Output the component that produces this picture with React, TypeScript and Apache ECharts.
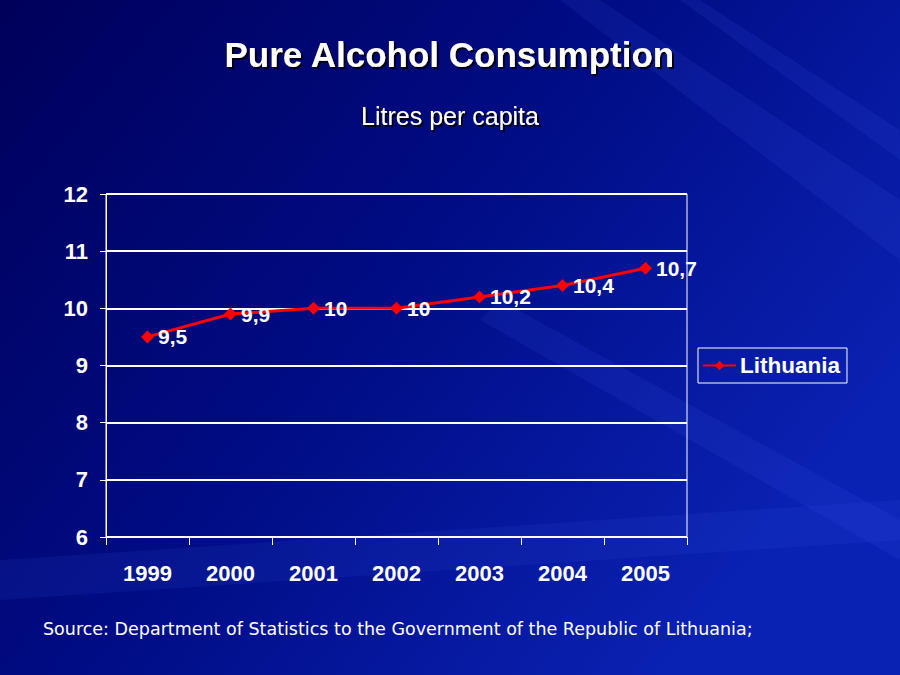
import React, { useEffect, useRef } from "react";
import * as echarts from "echarts";

const years = ["1999", "2000", "2001", "2002", "2003", "2004", "2005"];
const lithuania = [9.5, 9.9, 10, 10, 10.2, 10.4, 10.7];
const seriesName = "Lithuania";
const titleText = "Pure Alcohol Consumption";
const subtitleText = "Litres per capita";
const sourceText = "Source: Department of Statistics to the Government of the Republic of Lithuania;";

export default function App() {
  const ref = useRef<HTMLDivElement>(null);
  useEffect(() => {
    if (!ref.current) return;
    const chart = echarts.init(ref.current, undefined, { renderer: "svg" });
    const shadow = { textShadowColor: "rgba(0,0,0,0.9)", textShadowBlur: 1, textShadowOffsetX: 2, textShadowOffsetY: 2 };
    const font = "'Liberation Sans', Arial, sans-serif";
    chart.setOption({
      animation: false,
      backgroundColor: {
        type: "linear", x: 0, y: 0, x2: 1, y2: 0.6,
        colorStops: [
          { offset: 0, color: "#00005a" },
          { offset: 0.5, color: "#000c84" },
          { offset: 1, color: "#0a22b4" },
        ],
      },
      graphic: [
        { type: "polygon", silent: true, z: -1, shape: { points: [[600, 0], [900, 200], [900, 260], [560, 0]] }, style: { fill: "rgba(80,110,255,0.10)" } },
        { type: "polygon", silent: true, z: -1, shape: { points: [[700, 0], [900, 130], [900, 160], [680, 0]] }, style: { fill: "rgba(80,110,255,0.10)" } },
        { type: "polygon", silent: true, z: -1, shape: { points: [[0, 560], [900, 500], [900, 540], [0, 600]] }, style: { fill: "rgba(60,90,230,0.12)" } },
        { type: "polygon", silent: true, z: -1, shape: { points: [[500, 300], [900, 520], [900, 560], [480, 320]] }, style: { fill: "rgba(80,110,255,0.10)" } },
        {
          type: "text", left: "center", top: 37,
          style: { text: titleText, fill: "#ffffff", font: `bold 35px ${font}`, ...shadow },
        },
        {
          type: "text", left: "center", top: 103,
          style: { text: subtitleText, fill: "#ffffff", font: `25px ${font}`, ...shadow },
        },
        {
          type: "text", left: 43, top: 620,
          style: { text: sourceText, fill: "#ffffff", font: "17.5px 'DejaVu Sans', sans-serif" },
        },
      ],
      grid: { left: 106, right: 213, top: 194, bottom: 138, show: true, borderColor: "#ffffff", borderWidth: 1, backgroundColor: "transparent" },
      legend: {
        data: [seriesName],
        orient: "vertical",
        left: 698, top: 348,
        padding: [6, 7, 6, 4],
        borderColor: "#ffffff", borderWidth: 1,
        itemWidth: 33, itemHeight: 12,
        textStyle: { color: "#ffffff", fontSize: 22.5, fontWeight: "bold", fontFamily: font, padding: [0, 0, 0, -1] },
      },
      xAxis: {
        type: "category",
        data: years,
        boundaryGap: true,
        axisLine: { lineStyle: { color: "#ffffff", width: 1 } },
        axisTick: { show: true, length: 8, lineStyle: { color: "#ffffff" } },
        axisLabel: { color: "#ffffff", fontSize: 22, fontWeight: "bold", fontFamily: font, margin: 25 },
      },
      yAxis: {
        type: "value",
        min: 6, max: 12, interval: 1,
        axisLine: { show: true, lineStyle: { color: "#ffffff", width: 1 } },
        axisTick: { show: true, length: 6, lineStyle: { color: "#ffffff" } },
        axisLabel: { color: "#ffffff", fontSize: 22, fontWeight: "bold", fontFamily: font, margin: 18 },
        splitLine: { show: true, lineStyle: { color: "#ffffff", width: 2 } },
      },
      series: [
        {
          name: seriesName,
          type: "line",
          data: lithuania,
          symbol: "diamond",
          symbolSize: 13,
          lineStyle: { color: "#ff0000", width: 3 },
          itemStyle: { color: "#ff0000" },
          label: {
            show: true, position: "right", distance: 4,
            color: "#ffffff", fontSize: 21, fontWeight: "bold", fontFamily: font,
            formatter: (p: any) => String(p.value).replace(".", ","),
          },
        },
      ],
    });
    return () => chart.dispose();
  }, []);
  return <div ref={ref} style={{ width: 900, height: 675, position: "absolute", left: 0, top: 0 }} />;
}
